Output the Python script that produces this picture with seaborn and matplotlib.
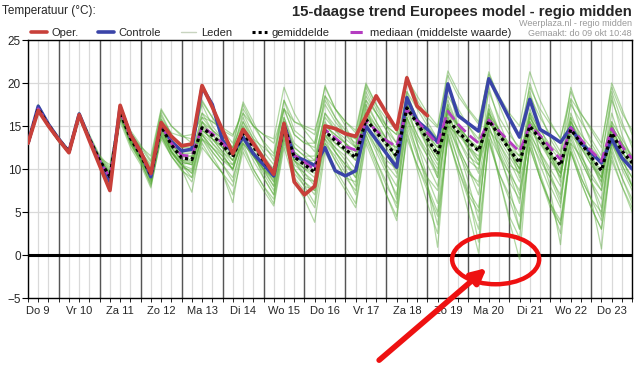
import pandas as pd
import seaborn as sns
import matplotlib.pyplot as plt
from matplotlib.patches import Ellipse
from matplotlib.lines import Line2D

# --- data (6-hourly, hours since Do 9 00:00) ---
dagen = ["Do 9", "Vr 10", "Za 11", "Zo 12", "Ma 13", "Di 14", "Wo 15", "Do 16",
         "Vr 17", "Za 18", "Zo 19", "Ma 20", "Di 21", "Wo 22", "Do 23"]
uren = list(range(6, 361, 6))

oper = [13.0, 16.8, 15.0, 13.4, 11.9, 16.3, 13.3, 10.4, 7.5, 17.4,
        14.0, 12.0, 9.5, 15.4, 13.8, 12.7, 12.9, 19.7, 17.2, 14.5,
        11.8, 14.6, 13.0, 11.2, 9.4, 15.3, 8.5, 7.0, 8.0, 15.0,
        14.7, 14.1, 13.8, 16.1, 18.5, 16.5, 14.6, 20.6, 17.3, 16.2]

controle = [13.0, 17.3, 15.2, 13.5, 12.0, 16.4, 13.5, 10.8, 8.5, 17.2,
            14.0, 12.0, 9.1, 15.3, 13.2, 12.1, 12.3, 19.5, 17.5, 13.3,
            11.9, 13.7, 11.8, 10.5, 9.2, 15.2, 11.5, 11.0, 10.4, 12.5,
            9.8, 9.2, 9.8, 15.0, 13.4, 11.8, 10.2, 18.3, 15.6, 14.6,
            13.1, 19.9, 16.2, 15.3, 14.4, 20.5, 18.2, 15.9, 13.7, 18.1,
            14.6, 13.9, 13.1, 14.8, 13.0, 11.9, 10.7, 13.5, 11.3, 10.0]

gemiddelde = [13.0, 17.0, 15.1, 13.4, 12.0, 16.2, 13.5, 11.0, 9.1, 16.6,
              13.6, 11.6, 9.3, 15.0, 12.8, 11.3, 11.1, 14.8, 13.9, 12.8,
              11.4, 14.2, 12.6, 11.0, 9.5, 15.0, 11.4, 10.5, 9.6, 14.4,
              13.3, 12.3, 11.3, 15.8, 14.3, 12.9, 11.5, 17.1, 15.3, 13.5,
              11.7, 15.8, 14.3, 13.2, 12.1, 15.6, 14.0, 12.3, 10.7, 15.0,
              13.5, 11.9, 10.4, 14.6, 13.0, 11.4, 9.8, 14.2, 12.1, 10.7]

mediaan = [13.0, 17.0, 15.1, 13.4, 12.0, 16.2, 13.5, 11.0, 9.0, 16.8,
           13.7, 11.8, 9.4, 15.1, 13.0, 11.6, 11.5, 14.9, 14.1, 13.0,
           11.8, 14.3, 12.8, 11.2, 9.6, 15.0, 11.6, 10.8, 9.9, 14.6,
           13.6, 12.6, 12.2, 15.6, 14.5, 13.3, 12.6, 16.9, 15.6, 14.2,
           12.9, 16.7, 15.2, 14.0, 13.0, 15.7, 14.4, 13.2, 12.0, 15.1,
           13.9, 12.5, 11.1, 14.8, 13.4, 12.1, 10.9, 14.7, 12.6, 11.2]

leden = [
    [13.1, 17.4, 15.3, 13.6, 12.2, 16.5, 13.8, 11.4, 9.8, 17.0, 14.0, 12.0, 10.5, 16.2, 14.0, 12.5,
     12.8, 17.8, 16.0, 14.5, 13.0, 17.5, 15.0, 13.2, 11.8, 18.0, 15.5, 14.8, 14.0, 19.5, 17.0, 15.5,
     14.2, 19.8, 17.5, 15.8, 14.5, 20.8, 18.0, 16.0, 14.8, 20.9, 18.5, 16.8, 15.2, 21.3, 18.0, 16.2,
     14.0, 19.5, 17.0, 15.2, 13.6, 18.2, 16.4, 14.8, 13.0, 19.5, 16.5, 14.5],
    [12.9, 16.8, 14.9, 13.2, 11.8, 16.0, 13.2, 10.6, 8.6, 16.2, 13.0, 10.8, 8.2, 14.0, 11.5, 9.8,
     9.0, 13.0, 11.0, 9.5, 8.0, 12.5, 10.0, 8.0, 6.5, 13.5, 9.0, 7.5, 5.5, 12.5, 10.0, 8.0,
     6.0, 13.5, 10.5, 7.0, 4.5, 14.5, 10.0, 6.0, 2.5, 14.0, 9.5, 5.0, 0.2, 13.5, 9.0, 4.5,
     2.0, 13.0, 9.5, 6.0, 4.0, 12.5, 9.0, 6.5, 5.0, 13.0, 10.0, 7.5],
    [13.0, 17.2, 15.2, 13.5, 12.0, 16.3, 13.4, 11.1, 9.3, 16.5, 13.8, 11.8, 9.0, 15.5, 12.5, 10.8,
     10.5, 15.0, 13.0, 11.5, 10.0, 14.0, 11.5, 9.5, 7.5, 14.5, 10.0, 8.5, 7.0, 13.0, 11.0, 9.0,
     7.5, 14.0, 11.0, 8.0, 6.0, 16.0, 12.0, 8.0, 5.0, 15.0, 11.0, 7.5, 5.5, 14.5, 9.0, 4.0,
     -0.5, 13.5, 9.0, 5.5, 3.5, 12.0, 8.5, 5.5, 3.0, 11.5, 8.0, 5.0],
    [13.0, 16.9, 15.0, 13.3, 12.1, 16.1, 13.6, 11.2, 9.5, 16.8, 13.5, 11.5, 9.8, 14.8, 12.0, 10.5,
     10.8, 14.2, 13.0, 11.8, 9.8, 13.5, 11.5, 9.8, 8.0, 15.5, 11.0, 9.0, 8.5, 13.8, 12.5, 11.0,
     9.0, 15.0, 12.5, 10.0, 8.0, 15.5, 12.0, 8.5, 0.9, 14.5, 11.0, 7.0, 5.0, 15.0, 11.5, 8.5,
     6.5, 14.0, 10.5, 7.5, 1.2, 13.0, 10.0, 6.5, 0.7, 12.5, 9.0, 6.0],
    [13.2, 17.3, 15.3, 13.6, 12.1, 16.4, 13.7, 11.3, 10.5, 16.5, 14.2, 12.6, 11.5, 17.0, 15.0, 13.8,
     13.5, 16.5, 15.5, 14.5, 13.8, 17.0, 15.0, 14.0, 13.5, 19.5, 16.5, 14.5, 13.0, 19.7, 17.0, 15.5,
     14.5, 20.0, 17.5, 15.0, 13.0, 18.5, 16.0, 14.0, 12.5, 17.5, 15.0, 13.5, 12.0, 17.0, 14.5, 12.5,
     11.5, 16.5, 14.5, 12.8, 11.5, 16.0, 14.0, 12.5, 11.0, 15.5, 13.5, 11.5],
    [12.8, 17.0, 15.0, 13.3, 11.9, 16.0, 13.3, 10.8, 8.8, 16.0, 13.2, 11.2, 8.5, 14.5, 12.2, 10.5,
     9.5, 13.5, 12.0, 10.5, 9.0, 13.0, 11.5, 10.0, 8.8, 14.0, 11.5, 10.0, 9.5, 13.5, 12.0, 10.5,
     9.5, 14.5, 12.5, 11.0, 10.0, 16.0, 13.5, 11.5, 9.0, 15.0, 12.5, 10.0, 8.0, 14.0, 11.5, 9.5,
     7.5, 13.5, 11.0, 9.0, 7.0, 13.5, 11.0, 8.5, 6.5, 13.0, 10.5, 8.0],
    [13.0, 17.1, 15.2, 13.5, 12.0, 16.2, 13.5, 11.1, 9.2, 16.7, 13.7, 11.7, 9.5, 15.5, 13.0, 11.5,
     11.5, 15.5, 14.5, 13.5, 12.0, 15.0, 13.0, 11.5, 10.0, 16.0, 13.0, 12.0, 11.0, 16.5, 15.0, 14.0,
     13.0, 18.5, 16.5, 15.0, 14.0, 20.5, 18.5, 16.5, 15.0, 21.4, 19.0, 17.0, 15.5, 21.0, 18.5, 16.5,
     15.0, 21.3, 18.0, 15.5, 13.5, 19.0, 16.5, 14.5, 12.5, 20.0, 17.0, 14.0],
    [13.0, 17.0, 15.1, 13.4, 12.0, 16.1, 13.4, 10.9, 9.0, 16.4, 13.4, 11.4, 9.0, 14.5, 12.5, 11.0,
     11.0, 15.0, 14.0, 12.5, 11.0, 14.5, 12.5, 10.5, 8.5, 15.0, 11.0, 10.0, 9.0, 14.5, 13.0, 12.0,
     11.0, 16.5, 14.5, 12.5, 10.5, 17.5, 15.0, 12.5, 10.5, 16.0, 14.0, 12.5, 11.5, 15.5, 13.5, 11.5,
     9.5, 15.0, 13.0, 11.0, 9.5, 14.5, 12.5, 10.5, 9.0, 14.0, 11.5, 10.0],
    [13.1, 17.2, 15.2, 13.5, 12.1, 16.3, 13.6, 11.0, 8.7, 16.3, 13.0, 11.0, 8.0, 13.5, 11.5, 10.0,
     8.5, 12.5, 11.0, 9.5, 7.0, 12.0, 9.5, 7.5, 5.7, 12.5, 8.5, 6.5, 3.8, 12.0, 9.5, 7.5,
     5.5, 13.0, 10.0, 7.0, 4.0, 14.0, 10.5, 7.5, 4.5, 13.5, 10.0, 6.5, 3.0, 13.0, 9.5, 7.0,
     4.5, 12.5, 9.0, 6.0, 3.5, 12.0, 9.0, 6.5, 4.0, 12.0, 9.0, 6.5],
    [12.9, 16.9, 15.0, 13.3, 11.9, 16.1, 13.4, 11.0, 9.6, 16.9, 14.0, 12.0, 10.0, 15.8, 13.5, 12.0,
     12.0, 16.0, 14.5, 13.5, 12.5, 15.5, 13.5, 12.5, 11.5, 17.0, 14.0, 13.0, 12.5, 17.5, 15.5, 14.0,
     13.5, 18.0, 16.5, 14.5, 13.0, 19.0, 17.0, 15.0, 13.5, 18.5, 16.5, 15.0, 13.5, 19.0, 16.0, 14.0,
     12.5, 18.5, 16.0, 14.0, 12.0, 17.5, 15.5, 13.5, 11.5, 18.0, 15.0, 13.0],
    [13.0, 17.1, 15.1, 13.4, 12.0, 16.2, 13.5, 11.0, 9.0, 16.6, 13.5, 11.5, 9.2, 15.0, 12.8, 11.0,
     10.5, 14.5, 13.5, 12.0, 11.0, 14.0, 12.0, 10.0, 9.0, 14.5, 11.0, 10.0, 10.0, 14.0, 13.0, 12.0,
     11.5, 16.0, 14.5, 13.0, 12.0, 18.0, 16.0, 14.0, 12.5, 16.5, 15.0, 13.5, 12.5, 16.0, 14.5, 13.0,
     11.5, 15.5, 14.0, 12.5, 11.0, 15.0, 13.5, 12.0, 10.5, 15.0, 13.0, 11.5],
    [13.0, 17.0, 15.0, 13.3, 12.0, 16.2, 13.5, 11.0, 9.4, 16.6, 13.3, 11.3, 8.8, 15.2, 12.0, 10.2,
     9.8, 14.0, 12.5, 11.0, 10.5, 14.5, 12.0, 9.0, 7.0, 14.0, 10.0, 8.0, 6.0, 15.0, 12.0, 10.0,
     8.0, 17.5, 13.5, 10.0, 6.5, 18.0, 13.0, 9.0, 6.0, 17.5, 12.5, 8.5, 4.0, 17.0, 12.0, 8.0,
     3.0, 16.5, 12.0, 8.0, 5.5, 16.0, 12.0, 8.5, 4.5, 15.5, 11.5, 8.0],
    [13.0, 17.0, 15.1, 13.4, 12.0, 16.2, 13.5, 11.0, 9.1, 16.5, 13.7, 11.7, 9.5, 15.0, 13.0, 11.5,
     11.5, 14.5, 13.5, 12.5, 11.5, 13.5, 12.0, 10.5, 9.5, 15.5, 12.0, 11.0, 10.5, 15.0, 14.0, 13.0,
     12.0, 15.5, 14.5, 13.0, 12.5, 17.0, 15.5, 14.0, 12.0, 15.0, 14.0, 13.0, 12.5, 15.5, 14.0, 12.5,
     11.0, 14.5, 13.0, 11.5, 10.5, 14.0, 12.5, 11.0, 10.0, 13.5, 12.0, 10.5],
    [13.1, 17.3, 15.3, 13.6, 12.1, 16.4, 13.8, 11.4, 10.0, 17.2, 14.5, 12.8, 11.0, 16.8, 15.0, 14.0,
     13.0, 18.0, 16.0, 14.0, 12.5, 17.8, 15.5, 13.0, 11.0, 18.0, 14.5, 13.5, 12.0, 18.5, 16.0, 14.0,
     12.5, 19.0, 16.5, 14.5, 12.0, 18.0, 15.5, 13.5, 11.5, 17.0, 15.0, 13.0, 11.0, 16.5, 14.5, 12.5,
     10.0, 16.0, 14.0, 12.0, 9.5, 15.5, 13.5, 11.5, 9.0, 15.0, 13.0, 11.0],
    [12.9, 16.8, 14.9, 13.2, 11.9, 15.9, 13.2, 10.7, 8.3, 15.5, 12.5, 10.5, 7.8, 13.8, 11.5, 10.0,
     7.3, 13.5, 11.5, 9.5, 6.1, 13.0, 10.0, 8.0, 6.0, 13.0, 9.5, 8.0, 7.5, 13.5, 11.0, 9.0,
     8.5, 14.5, 12.0, 9.5, 7.0, 15.0, 11.5, 9.0, 7.5, 15.5, 12.0, 9.5, 8.5, 16.0, 12.5, 10.0,
     7.0, 15.5, 12.0, 9.5, 6.5, 15.0, 11.5, 9.0, 7.5, 14.5, 11.0, 9.0],
    [13.0, 17.1, 15.0, 13.4, 12.0, 16.3, 13.5, 11.0, 9.0, 16.4, 13.4, 11.6, 9.3, 14.8, 12.5, 11.0,
     10.8, 15.5, 14.0, 13.0, 12.5, 16.0, 13.5, 11.5, 9.5, 16.0, 12.5, 11.5, 11.5, 16.0, 14.5, 13.5,
     12.5, 17.5, 15.5, 13.5, 11.0, 19.0, 15.5, 12.5, 9.0, 20.0, 15.0, 12.0, 9.5, 19.5, 15.5, 12.5,
     9.0, 19.0, 15.0, 12.0, 8.5, 18.0, 14.5, 11.0, 8.0, 18.5, 14.0, 11.0],
    [13.0, 17.0, 15.1, 13.4, 12.0, 16.1, 13.4, 10.9, 8.9, 16.2, 13.2, 11.3, 8.7, 14.3, 12.0, 10.5,
     10.0, 15.5, 13.5, 12.0, 10.5, 13.0, 11.5, 10.0, 8.0, 14.0, 10.5, 9.5, 8.0, 14.0, 12.5, 11.5,
     10.0, 15.0, 13.5, 12.0, 9.5, 16.5, 14.0, 12.0, 10.0, 15.5, 13.5, 11.5, 10.5, 14.5, 13.0, 11.0,
     8.5, 14.0, 12.0, 10.0, 8.0, 13.0, 11.5, 9.5, 7.5, 13.0, 11.0, 9.0],
    [13.0, 17.5, 15.4, 13.7, 12.2, 16.6, 14.0, 11.6, 10.2, 16.9, 14.3, 12.5, 10.8, 16.5, 14.0, 12.5,
     12.5, 17.5, 15.0, 13.5, 12.0, 16.5, 14.0, 12.0, 10.5, 17.0, 14.0, 13.0, 13.0, 18.0, 16.0, 14.5,
     13.5, 19.5, 17.0, 15.0, 14.0, 20.5, 17.5, 15.5, 13.5, 19.5, 17.0, 15.0, 13.0, 20.5, 17.5, 14.5,
     12.0, 20.0, 16.5, 13.5, 11.5, 19.5, 16.0, 13.0, 11.0, 19.0, 15.5, 12.5],
    [12.9, 16.9, 15.0, 13.3, 11.9, 16.0, 13.3, 10.8, 8.5, 15.8, 12.8, 10.8, 8.3, 13.8, 11.8, 10.5,
     9.0, 14.0, 12.0, 10.5, 8.5, 13.5, 11.0, 9.0, 7.0, 13.5, 10.0, 8.5, 7.5, 13.0, 11.5, 9.5,
     7.0, 14.0, 11.0, 8.5, 5.5, 13.5, 10.5, 8.0, 3.5, 14.0, 10.0, 7.0, 1.5, 13.5, 9.5, 6.5,
     3.0, 12.5, 9.0, 6.0, 2.5, 12.0, 8.5, 5.5, 3.0, 11.0, 8.0, 5.5],
    [13.0, 17.0, 15.2, 13.4, 12.0, 16.2, 13.6, 11.2, 9.4, 16.8, 13.9, 11.9, 9.7, 15.3, 13.2, 11.8,
     11.8, 14.5, 13.5, 12.5, 11.0, 15.0, 13.0, 11.0, 10.0, 15.5, 12.0, 11.0, 11.0, 15.0, 14.0, 13.0,
     12.0, 16.5, 15.0, 13.5, 12.5, 17.5, 15.5, 13.5, 11.5, 17.0, 15.0, 13.5, 12.0, 16.5, 14.5, 12.5,
     10.5, 16.0, 14.0, 12.0, 10.0, 15.0, 13.0, 11.5, 9.5, 14.5, 12.5, 11.0],
    [13.0, 17.2, 15.2, 13.5, 12.1, 16.3, 13.6, 11.2, 9.7, 16.7, 14.0, 12.2, 10.2, 15.8, 14.2, 13.8,
     14.0, 16.0, 15.5, 14.8, 14.0, 16.5, 15.0, 14.0, 13.0, 17.0, 15.5, 15.0, 14.5, 18.5, 17.0, 15.0,
     12.5, 18.0, 15.5, 13.5, 11.0, 18.5, 15.5, 13.0, 11.0, 18.0, 15.0, 12.5, 10.5, 17.5, 14.5, 12.0,
     10.0, 17.0, 14.0, 11.5, 9.5, 16.5, 13.5, 11.0, 9.0, 16.5, 13.0, 10.5],
    [13.0, 16.9, 15.0, 13.3, 11.9, 16.0, 13.3, 10.9, 9.0, 16.3, 13.3, 11.2, 8.6, 14.2, 12.0, 10.5,
     9.5, 14.0, 12.5, 11.0, 10.0, 13.8, 12.0, 10.0, 8.5, 14.5, 11.0, 9.5, 8.5, 14.0, 12.0, 10.5,
     9.0, 15.5, 13.0, 10.5, 9.0, 16.0, 13.0, 10.5, 8.0, 16.0, 12.5, 10.0, 7.0, 15.0, 12.0, 9.5,
     6.0, 14.5, 11.5, 9.0, 6.0, 14.0, 11.0, 8.5, 5.5, 13.5, 10.5, 8.0],
    [13.1, 17.2, 15.2, 13.5, 12.1, 16.3, 13.6, 11.1, 9.3, 16.6, 13.6, 11.6, 9.0, 15.5, 13.0, 11.5,
     11.0, 16.5, 14.5, 13.0, 11.5, 15.5, 13.0, 11.0, 9.0, 15.5, 12.5, 11.5, 10.5, 16.5, 14.5, 13.0,
     11.5, 17.0, 15.0, 13.0, 11.0, 17.5, 15.0, 13.0, 11.0, 17.0, 14.5, 12.5, 11.0, 16.0, 14.0, 12.0,
     10.0, 15.5, 13.5, 11.5, 9.0, 15.5, 13.0, 11.0, 8.5, 14.5, 12.0, 10.0],
    [12.9, 16.8, 14.9, 13.2, 11.9, 16.0, 13.3, 10.8, 8.8, 16.0, 13.0, 11.0, 9.0, 14.0, 12.0, 10.8,
     10.5, 13.5, 12.5, 11.5, 10.0, 14.0, 12.0, 10.5, 9.0, 15.0, 11.5, 10.5, 10.5, 15.5, 13.5, 12.5,
     11.0, 16.5, 14.0, 12.0, 10.0, 17.0, 14.0, 11.5, 9.5, 16.5, 13.5, 11.0, 10.0, 16.5, 13.0, 10.5,
     9.5, 16.5, 13.5, 11.0, 9.0, 15.5, 12.5, 10.5, 8.5, 15.0, 12.0, 10.0],
]

df_leden = pd.DataFrame(
    [(i, u, v) for i, rij in enumerate(leden) for u, v in zip(uren, rij)],
    columns=["lid", "uur", "temp"])
df_main = pd.DataFrame({"uur": uren, "controle": controle,
                        "gemiddelde": gemiddelde, "mediaan": mediaan})
df_oper = pd.DataFrame({"uur": uren[:len(oper)], "oper": oper})

sns.set_style("white")
plt.rcParams["font.family"] = ["Liberation Sans", "DejaVu Sans"]

fig = plt.figure(figsize=(6.36, 3.67), dpi=100)
ax = fig.add_axes([0.044, 0.188, 0.950, 0.703])

# grid
ax.set_xlim(6, 360)
ax.set_ylim(-5, 25)
ax.set_yticks(range(-5, 26, 5))
ax.set_xticks([12 + 24 * k for k in range(15)])
ax.set_xticklabels(dagen)
ax.set_xticks(range(6, 361, 6), minor=True)
ax.xaxis.remove_overlapping_locs = False
ax.grid(which="minor", axis="x", color="#d9d9d9", lw=0.9)
ax.grid(which="major", axis="y", color="#d9d9d9", lw=0.9)
ax.grid(which="major", axis="x", visible=False)
for d in range(24, 360, 24):
    ax.axvline(d, color="#555555", lw=1.0, zorder=1)
ax.axhline(0, color="black", lw=2.2, zorder=2)

# ensemble members
sns.lineplot(data=df_leden, x="uur", y="temp", units="lid", estimator=None,
             color="#55aa35", lw=0.9, alpha=0.45, ax=ax, legend=False, zorder=3)
sns.lineplot(data=df_main, x="uur", y="controle", color="#3a44a8", lw=2.5,
             ax=ax, zorder=4)
sns.lineplot(data=df_main, x="uur", y="mediaan", color="#b43cc0", lw=2.0,
             ax=ax, zorder=5).lines[-1].set_dashes((4, 2))
sns.lineplot(data=df_main, x="uur", y="gemiddelde", color="black", lw=2.3,
             ax=ax, zorder=6).lines[-1].set_dashes((1, 1))
sns.lineplot(data=df_oper, x="uur", y="oper", color="#c8403a", lw=2.7,
             ax=ax, zorder=7)

ax.set_xlabel("")
ax.set_ylabel("")
for s in ax.spines.values():
    s.set_color("black")
    s.set_linewidth(1.0)
ax.tick_params(axis="y", which="major", left=True, length=4, width=0.8,
               labelsize=8.5, pad=1, color="black")
ax.tick_params(axis="x", which="major", bottom=False, labelsize=8, pad=2)
ax.tick_params(axis="x", which="minor", bottom=True, length=3, width=0.6,
               color="black")

# annotation: red ellipse + arrow
ax.add_patch(Ellipse((280, -0.5), 51, 5.8, fill=False, edgecolor="#ee1111",
                     lw=3.2, clip_on=False, zorder=9))
ax.annotate("", xy=(276, -1.3), xytext=(377, 5), textcoords="figure pixels",
            arrowprops=dict(arrowstyle="-|>", color="#ee1111", lw=4,
                            mutation_scale=22), annotation_clip=False, zorder=9)

# header texts
fig.text(2 / 636, 1 - 11 / 367, "Temperatuur (°C):", fontsize=8.5, va="center")
fig.text(632 / 636, 1 - 12 / 367, "15-daagse trend Europees model - regio midden",
         fontsize=10.7, fontweight="bold", ha="right", va="center")
fig.text(632 / 636, 1 - 24 / 367, "Weerplaza.nl - regio midden", fontsize=6.5,
         color="#999999", ha="right", va="center")
fig.text(632 / 636, 1 - 33 / 367, "Gemaakt: do 09 okt 10:48", fontsize=6.5,
         color="#999999", ha="right", va="center")

handles = [Line2D([], [], color="#c8403a", lw=2.6),
           Line2D([], [], color="#3a44a8", lw=2.6),
           Line2D([], [], color="#c8d4c0", lw=1.0),
           Line2D([], [], color="black", lw=2.2, dashes=(1, 1)),
           Line2D([], [], color="#b43cc0", lw=2.2, dashes=(4, 2))]
fig.legend(handles, ["Oper.", "Controle", "Leden", "gemiddelde",
                     "mediaan (middelste waarde)"],
           loc="center left", bbox_to_anchor=(31 / 636, 1 - 33 / 367), ncol=5,
           frameon=False, fontsize=8, handlelength=1.4, columnspacing=1.8,
           handletextpad=0.4, borderaxespad=0, borderpad=0)

fig.savefig("out.png", dpi=100)
